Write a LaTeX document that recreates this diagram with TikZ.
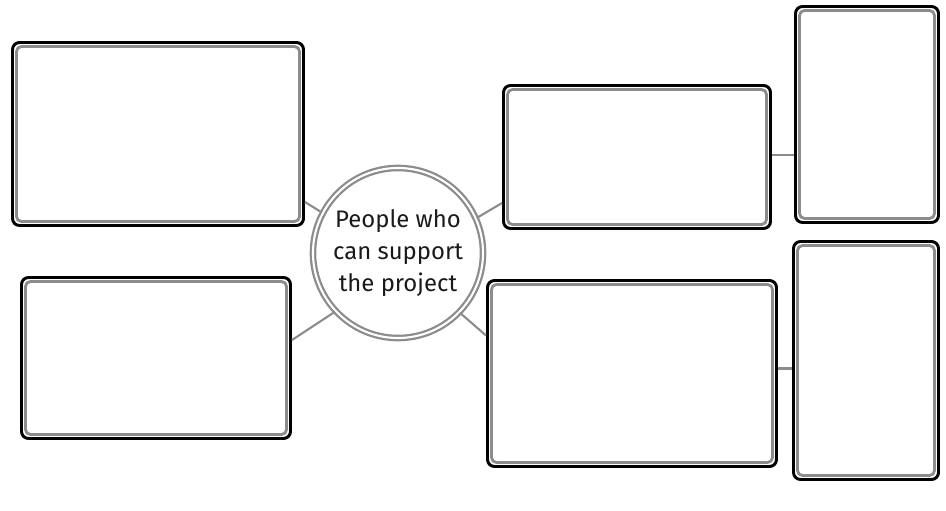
\documentclass[tikz,border=0pt]{standalone}
\usepackage{fontspec}
\setmainfont{Fira Sans}
\definecolor{rim}{HTML}{8C8C8C}
\definecolor{ink}{HTML}{1A1A1A}

\begin{document}
\begin{tikzpicture}[x=0.025cm,y=-0.025cm,
   card/.style 2 args={draw=black,line width=2.1pt,rounded corners=5pt,
      inner sep=0pt,minimum width=#1*0.025cm,minimum height=#2*0.025cm},
   inner/.style={draw=rim,line width=2pt,rounded corners=3.5pt},
   hub/.style={circle,draw=rim,double=white,line width=1.6pt,
      double distance=1.5pt,minimum size=4.25cm,inner sep=0pt,
      align=center,text=ink,font=\fontsize{17}{22.8}\selectfont},
   link/.style={draw=rim,line width=1.5pt}]
\useasboundingbox (0,0) rectangle (946,511);

\node[hub] (hub) at (398,253) {People who\\can support\\the project};

\node[card={291}{183}] (boxA) at (158,134) {};
\node[card={269}{161}] (boxB) at (156,358) {};
\node[card={267}{143}] (boxC) at (637,157) {};
\node[card={143}{216}] (boxD) at (867,114.5) {};
\node[card={289}{186}] (boxE) at (632,373.5) {};
\node[card={145}{238}] (boxF) at (866,360.5) {};

\foreach \b in {boxA,boxB,boxC,boxD,boxE,boxF}
   \draw[inner] ([shift={(5.5,5.5)}]\b.north west) rectangle ([shift={(-5.5,-5.5)}]\b.south east);

% links from the hub
\draw[link] (hub.152) -- ([shift={(0,68)}]boxA.east);
\draw[link] (hub.223) -- ([shift={(0,-18)}]boxB.east);
\draw[link] (hub.24) -- ([shift={(0,46)}]boxC.west);
\draw[link] (hub.316) -- ([shift={(0,-38)}]boxE.west);
\draw[link] ([shift={(0,-2)}]boxC.east) -- ([shift={(0,-2)}]boxC.east -| boxD.west);
\draw[link] ([shift={(0,-5)}]boxE.east) -- ([shift={(0,-5)}]boxE.east -| boxF.west);
\end{tikzpicture}
\end{document}
